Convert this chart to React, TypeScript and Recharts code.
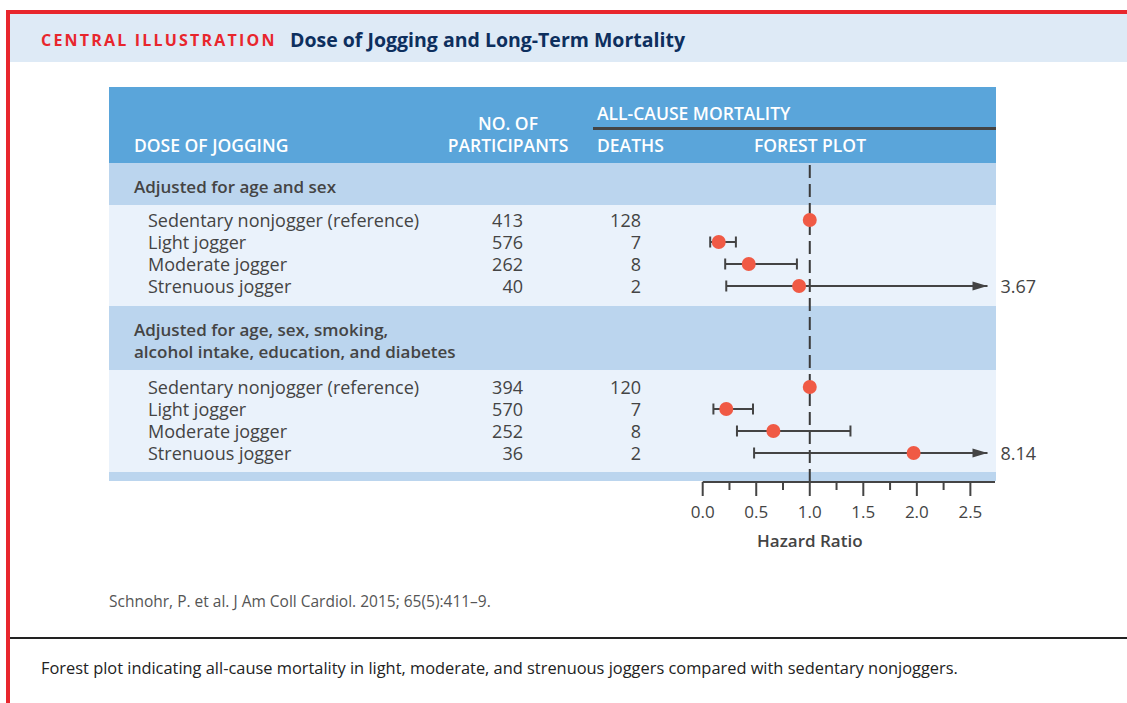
// Forest plot: dose of jogging vs. all-cause mortality (Recharts)
import {
  ComposedChart,
  Line,
  Scatter,
  XAxis,
  YAxis,
  ReferenceLine,
} from "recharts";

const SECTIONS = [
  ["Adjusted for age and sex"],
  ["Adjusted for age, sex, smoking,", "alcohol intake, education, and diabetes"],
];
const GROUPS = [
  "Sedentary nonjogger (reference)",
  "Light jogger",
  "Moderate jogger",
  "Strenuous jogger",
];
const PARTICIPANTS = [
  [413, 576, 262, 40],
  [394, 570, 252, 36],
];
const DEATHS = [
  [128, 7, 8, 2],
  [120, 7, 8, 2],
];
// 위험비 + 신뢰구간 (null = 기준군)
const HR = [
  [1.0, 0.15, 0.43, 0.9],
  [1.0, 0.22, 0.66, 1.97],
];
const CI_LOW = [
  [null, 0.07, 0.21, 0.22],
  [null, 0.1, 0.32, 0.48],
];
const CI_HIGH = [
  [null, 0.31, 0.88, 3.67],
  [null, 0.47, 1.38, 8.14],
];
const X_TICKS = [0, 0.25, 0.5, 0.75, 1, 1.25, 1.5, 1.75, 2, 2.25, 2.5];

const X_MAX = 2.73;
const ARROW_TIP = 2.66;

const FONT = "'Open Sans', 'Noto Sans', sans-serif";
const RED = "#e8262d";
const DOT = "#f05a45";
const INK = "#444444";

// 표 레이아웃 (px)
const TABLE_LEFT = 109;
const TABLE_RIGHT = 996;
const HEAD_TOP = 87;
const BODY_TOP = 163;
const SECTION_HEAD_H = [42, 64];
const ROW_H = 22;
const ROWS_PAD = [
  [4, 9],
  [6, 8],
];
const FOOTER_H = 9;

// 섹션별 위치 계산
const blocks: { headTop: number; rowsTop: number; rowsH: number }[] = [];
let cursor = 0;
SECTIONS.forEach((_, s) => {
  const headTop = cursor;
  cursor += SECTION_HEAD_H[s];
  const rowsTop = cursor;
  const rowsH = ROWS_PAD[s][0] + GROUPS.length * ROW_H + ROWS_PAD[s][1];
  cursor += rowsH;
  blocks.push({ headTop, rowsTop, rowsH });
});
const FOOTER_TOP = cursor;
const PLOT_H = FOOTER_TOP + FOOTER_H + 1;

const rowCenter = (s: number, i: number) =>
  blocks[s].rowsTop + ROWS_PAD[s][0] + i * ROW_H + ROW_H / 2;

const points = HR.flatMap((sec, s) =>
  sec.map((v, i) => ({ x: v, y: rowCenter(s, i) }))
);

const ciLines = HR.flatMap((sec, s) =>
  sec
    .map((_, i) => {
      const lo = CI_LOW[s][i];
      const hi = CI_HIGH[s][i];
      if (lo == null || hi == null) return null;
      const y = rowCenter(s, i);
      const cut = hi > X_MAX;
      return {
        key: `${s}-${i}`,
        data: [
          { x: lo, y, end: "cap" },
          { x: cut ? ARROW_TIP : hi, y, end: cut ? "arrow" : "cap", label: hi.toFixed(2) },
        ],
      };
    })
    .filter(Boolean)
) as { key: string; data: any[] }[];

const renderEnd = (props: any) => {
  const { cx, cy, payload, index } = props;
  if (payload.end === "arrow") {
    return (
      <g key={`e${index}`}>
        <polygon points={`${cx},${cy} ${cx - 15},${cy - 4.5} ${cx - 15},${cy + 4.5}`} fill={INK} />
        <text x={cx + 13} y={cy} dominantBaseline="central" fontSize={18} fill={INK} fontFamily={FONT}>
          {payload.label}
        </text>
      </g>
    );
  }
  return <line key={`e${index}`} x1={cx} x2={cx} y1={cy - 5.5} y2={cy + 5.5} stroke={INK} strokeWidth={2} />;
};

const renderTick = (props: any) => {
  const { x, y, payload } = props;
  const v = payload.value;
  const major = Math.abs(v * 2 - Math.round(v * 2)) < 1e-6;
  return (
    <g>
      <line x1={x} x2={x} y1={y} y2={y + (major ? 14 : 8)} stroke={INK} strokeWidth={2} />
      {major && (
        <text x={x} y={y + 29} textAnchor="middle" dominantBaseline="central" fontSize={17} fill={INK} fontFamily={FONT}>
          {v.toFixed(1)}
        </text>
      )}
      {v === 1 && (
        <text x={x} y={y + 58} textAnchor="middle" dominantBaseline="central" fontSize={17} fontWeight={600} fill={INK} fontFamily={FONT}>
          Hazard Ratio
        </text>
      )}
    </g>
  );
};

const abs = (extra: React.CSSProperties): React.CSSProperties => ({ position: "absolute", ...extra });

export default function App() {
  const chartLeft = 600;
  const plotLeft = 702.7;
  const plotRight = 995;
  const chartW = 527;
  const axisH = 80;
  const headText = { lineHeight: "22px", fontSize: 17.5, fontWeight: 600, color: "#fff" };
  const rowText = { lineHeight: `${ROW_H}px`, fontSize: 18, color: INK };

  return (
    <div style={abs({ left: 0, top: 0, width: 1127, height: 703, background: "#fff", overflow: "hidden", fontFamily: FONT })}>
      {/* 빨간 테두리 */}
      <div style={abs({ left: 6, top: 10, width: 1121, height: 693, borderTop: `4px solid ${RED}`, borderLeft: `4px solid ${RED}`, boxSizing: "border-box" })} />

      {/* 제목 바 */}
      <div style={abs({ left: 10, top: 14, width: 1117, height: 48, background: "#deeaf6" })} />
      <div style={abs({ left: 41, top: 29, fontSize: 16, lineHeight: "22px", fontWeight: 700, letterSpacing: 2.2, color: RED })}>
        CENTRAL ILLUSTRATION
      </div>
      <div style={abs({ left: 290, top: 28, fontSize: 19.5, lineHeight: "24px", fontWeight: 700, color: "#0d2f5e" })}>
        Dose of Jogging and Long-Term Mortality
      </div>

      {/* 표 머리 */}
      <div style={abs({ left: TABLE_LEFT, top: HEAD_TOP, width: TABLE_RIGHT - TABLE_LEFT, height: BODY_TOP - HEAD_TOP, background: "#5aa5da" })} />
      {[
        { t: "DOSE OF JOGGING", l: 134, y: 145 },
        { t: "ALL-CAUSE MORTALITY", l: 597, y: 113 },
        { t: "DEATHS", l: 597, y: 145 },
        { t: "FOREST PLOT", l: 754, y: 145 },
      ].map((h) => (
        <div key={h.t} style={abs({ left: h.l, top: h.y - 11, ...headText })}>
          {h.t}
        </div>
      ))}
      <div style={abs({ left: 408, width: 200, top: 112, textAlign: "center", ...headText })}>
        NO. OF
        <br />
        PARTICIPANTS
      </div>
      <div style={abs({ left: 593, top: 127, width: TABLE_RIGHT - 593, height: 2.5, background: INK })} />

      {/* 섹션 */}
      {SECTIONS.map((lines, s) => (
        <div key={s}>
          <div style={abs({ left: TABLE_LEFT, top: BODY_TOP + blocks[s].headTop, width: TABLE_RIGHT - TABLE_LEFT, height: SECTION_HEAD_H[s], background: "#bbd5ee" })} />
          <div style={abs({ left: 134, top: BODY_TOP + blocks[s].headTop + 13, lineHeight: "22px", fontSize: 17, fontWeight: 600, color: INK })}>
            {lines.map((l) => (
              <div key={l}>{l}</div>
            ))}
          </div>
          <div style={abs({ left: TABLE_LEFT, top: BODY_TOP + blocks[s].rowsTop, width: TABLE_RIGHT - TABLE_LEFT, height: blocks[s].rowsH, background: "#eaf2fb" })} />
          {GROUPS.map((g, i) => {
            const top = BODY_TOP + rowCenter(s, i) - ROW_H / 2;
            return (
              <div key={g}>
                <div style={abs({ left: 148, top, ...rowText })}>{g}</div>
                <div style={abs({ left: 423, width: 100, textAlign: "right", top, ...rowText })}>{PARTICIPANTS[s][i]}</div>
                <div style={abs({ left: 541, width: 100, textAlign: "right", top, ...rowText })}>{DEATHS[s][i]}</div>
              </div>
            );
          })}
        </div>
      ))}
      <div style={abs({ left: TABLE_LEFT, top: BODY_TOP + FOOTER_TOP, width: TABLE_RIGHT - TABLE_LEFT, height: FOOTER_H, background: "#bbd5ee" })} />

      {/* 포레스트 플롯 */}
      <div style={abs({ left: chartLeft, top: BODY_TOP })}>
        <ComposedChart
          width={chartW}
          height={PLOT_H + axisH}
          margin={{ top: 0, right: chartW - (plotRight - chartLeft), bottom: 0, left: plotLeft - chartLeft }}
          style={{ overflow: "visible" }}
        >
          <XAxis
            type="number"
            dataKey="x"
            domain={[0, X_MAX]}
            ticks={X_TICKS}
            interval={0}
            height={axisH}
            tickSize={0}
            tickMargin={0}
            tickLine={false}
            axisLine={{ stroke: INK, strokeWidth: 2 }}
            tick={renderTick}
          />
          <YAxis type="number" dataKey="y" domain={[0, PLOT_H]} reversed hide />
          <ReferenceLine x={1} stroke="#3a3a3a" strokeWidth={2} strokeDasharray="13 6" />
          {ciLines.map((c) => (
            <Line
              key={c.key}
              data={c.data}
              dataKey="y"
              stroke={INK}
              strokeWidth={2}
              dot={renderEnd}
              activeDot={false}
              isAnimationActive={false}
            />
          ))}
          <Scatter
            data={points}
            isAnimationActive={false}
            shape={(p: any) => <circle cx={p.cx} cy={p.cy} r={7} fill={DOT} />}
          />
        </ComposedChart>
      </div>

      {/* 출처 / 설명 */}
      <div style={abs({ left: 109, top: 590, lineHeight: "22px", fontSize: 15.5, color: "#555" })}>
        Schnohr, P. et al. J Am Coll Cardiol. 2015; 65(5):411–9.
      </div>
      <div style={abs({ left: 10, top: 637, width: 1117, height: 2, background: "#222" })} />
      <div style={abs({ left: 41, top: 657, lineHeight: "22px", fontSize: 16.4, color: "#222" })}>
        Forest plot indicating all-cause mortality in light, moderate, and strenuous joggers compared with sedentary nonjoggers.
      </div>
    </div>
  );
}
